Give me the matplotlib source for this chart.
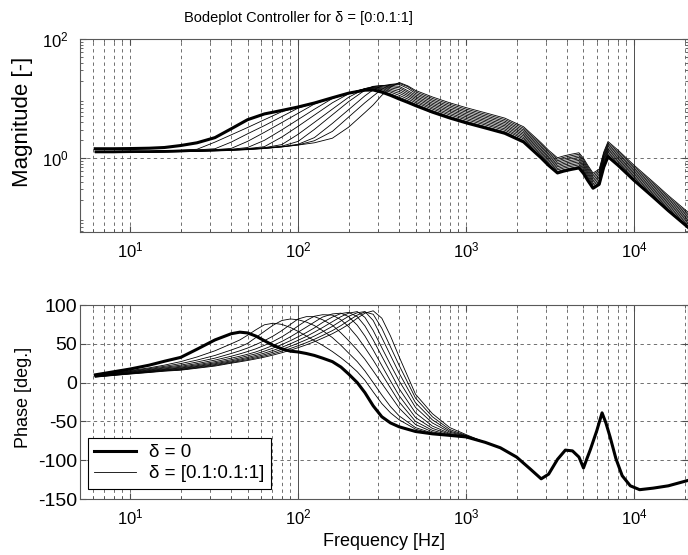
import matplotlib
matplotlib.use('Agg')
import matplotlib.pyplot as plt
from matplotlib.ticker import LogLocator, NullFormatter

plt.rcParams['font.family'] = ['Liberation Sans', 'DejaVu Sans']
plt.rcParams['mathtext.fontset'] = 'custom'
plt.rcParams['mathtext.rm'] = 'Liberation Sans'
plt.rcParams['mathtext.it'] = 'Liberation Sans:italic'
plt.rcParams['axes.unicode_minus'] = False

# delta values: 0 (thick) and 0.1 ... 1 (thin)
deltas = [0.0, 0.1, 0.2, 0.3, 0.4, 0.5, 0.6, 0.7, 0.8, 0.9, 1.0]

# ---- magnitude, low frequency part (one row per delta)
freq_mag_low = [6.2, 8, 10, 13, 16, 20, 25, 32, 40, 50, 63, 80, 100, 125, 160, 200,
                250, 280, 315, 355, 400, 450]
mag_low = [
    [1.43, 1.43, 1.44, 1.46, 1.50, 1.62, 1.80, 2.20, 3.10, 4.40, 5.50, 6.30, 7.20, 8.40, 10.3, 12.3, 13.8, 13.9, 12.8, 11.3, 9.8, 8.6],
    [1.31, 1.31, 1.32, 1.32, 1.34, 1.36, 1.40, 1.85, 2.45, 3.25, 4.40, 6.00, 7.20, 8.40, 10.3, 12.3, 14.0, 14.2, 13.4, 12.0, 10.5, 9.2],
    [1.30, 1.30, 1.31, 1.31, 1.33, 1.35, 1.37, 1.43, 1.85, 2.55, 3.50, 4.97, 6.89, 8.40, 10.3, 12.3, 14.2, 14.6, 14.0, 12.8, 11.3, 9.8],
    [1.29, 1.29, 1.30, 1.30, 1.32, 1.34, 1.36, 1.38, 1.45, 1.90, 2.70, 3.94, 5.64, 8.07, 10.3, 12.3, 14.4, 15.0, 14.6, 13.5, 12.2, 10.5],
    [1.28, 1.28, 1.29, 1.29, 1.31, 1.32, 1.34, 1.37, 1.40, 1.50, 1.98, 2.97, 4.43, 6.60, 10.0, 12.3, 14.6, 15.3, 15.2, 14.3, 13.1, 11.2],
    [1.27, 1.27, 1.28, 1.28, 1.30, 1.31, 1.33, 1.36, 1.39, 1.44, 1.55, 2.25, 3.41, 5.26, 8.47, 12.0, 14.7, 15.6, 15.8, 15.1, 14.1, 11.9],
    [1.26, 1.26, 1.27, 1.27, 1.29, 1.30, 1.32, 1.35, 1.38, 1.42, 1.49, 1.68, 2.50, 3.97, 6.63, 10.5, 14.6, 15.9, 16.3, 15.9, 15.1, 12.7],
    [1.25, 1.25, 1.26, 1.26, 1.28, 1.29, 1.31, 1.34, 1.37, 1.41, 1.48, 1.58, 1.90, 3.02, 5.32, 8.87, 13.8, 16.0, 16.6, 16.6, 16.0, 13.5],
    [1.24, 1.24, 1.25, 1.25, 1.26, 1.28, 1.30, 1.33, 1.36, 1.40, 1.46, 1.55, 1.70, 2.20, 3.81, 6.50, 11.1, 14.0, 16.3, 17.3, 17.2, 14.8],
    [1.23, 1.23, 1.24, 1.24, 1.25, 1.27, 1.29, 1.32, 1.35, 1.39, 1.45, 1.54, 1.66, 1.95, 2.80, 4.88, 8.50, 11.0, 14.3, 17.2, 18.0, 15.8],
    [1.22, 1.22, 1.23, 1.24, 1.25, 1.27, 1.29, 1.31, 1.34, 1.38, 1.44, 1.53, 1.65, 1.80, 2.15, 3.30, 5.80, 7.80, 11.3, 15.5, 18.6, 16.3],
]

# ---- magnitude, high frequency part: lower edge of band (delta = 0)
freq_mag_tail = [500, 630, 800, 1000, 1300, 1700, 2200, 2800, 3100, 3500, 3800, 4200, 4700, 5000,
                 5300, 5700, 6200, 6600, 7000, 8000, 10000, 13000, 16000, 21000]
mag_tail_d0 = [7.6, 5.9, 4.7, 3.9, 3.2, 2.6, 1.86, 1.0, 0.75, 0.56, 0.6, 0.64, 0.68, 0.55,
               0.42, 0.31, 0.36, 0.7, 1.05, 0.76, 0.42, 0.22, 0.13, 0.068]
band_gain = [1.0, 1.06, 1.125, 1.19, 1.265, 1.34, 1.42, 1.51, 1.6, 1.7, 1.8]

# ---- phase, low frequency part (one row per delta)
freq_ph_low = [6.2, 8, 10, 13, 16, 20, 25, 32, 40, 45, 50, 56, 63, 71, 80, 90, 100, 112, 125, 140,
               160, 180, 200, 225, 250, 280, 315, 355, 400, 500, 630, 800, 1000]
phase_low = [
    [10.0, 14.0, 17.5, 22.5, 27.5, 32.5, 43.0, 55.0, 63.0, 65.0, 64.0, 60.0, 54.0, 48.0, 43.5, 40.5, 39.5, 37.5, 35.0, 31.5,
     27.0, 20.0, 11.0, 0.0, -13.0, -30.0, -44.0, -52.0, -57.0, -63.0, -66.0, -68.0, -70.0],
    [9.5, 12.5, 15.5, 19.0, 22.5, 27.0, 33.0, 41.0, 50.0, 55.0, 61.0, 68.0, 74.5, 76.5, 75.0, 71.0, 66.0, 60.0, 54.0, 48.0,
     40.0, 32.0, 24.0, 14.0, 3.0, -12.0, -27.0, -39.0, -48.0, -60.0, -66.0, -68.5, -70.5],
    [9.2, 12.0, 14.8, 18.0, 21.0, 24.5, 29.0, 35.0, 42.0, 46.0, 50.5, 58.0, 66.0, 74.0, 80.0, 82.0, 81.0, 78.0, 73.5, 67.0,
     58.0, 48.0, 38.0, 27.0, 15.0, 0.0, -16.0, -31.0, -43.0, -58.0, -65.0, -68.5, -70.5],
    [8.9, 11.6, 14.2, 17.0, 19.8, 22.5, 26.5, 31.5, 37.5, 41.0, 44.5, 49.0, 54.0, 60.0, 67.0, 75.0, 82.0, 85.0, 85.0, 81.0,
     74.0, 64.0, 54.0, 42.0, 30.0, 15.0, -1.0, -17.0, -33.0, -54.0, -63.5, -68.0, -70.5],
    [8.6, 11.2, 13.6, 16.2, 18.8, 21.0, 24.5, 29.0, 34.0, 37.0, 40.0, 43.5, 48.0, 53.0, 59.0, 66.0, 73.0, 80.0, 85.5, 87.5,
     87.0, 81.0, 72.0, 59.0, 45.0, 29.0, 11.0, -7.0, -25.0, -50.0, -61.5, -67.5, -70.0],
    [8.3, 10.8, 13.0, 15.5, 17.8, 19.8, 23.0, 27.0, 31.5, 34.0, 36.5, 39.5, 43.5, 48.0, 53.0, 59.0, 65.0, 71.5, 78.0, 84.5,
     88.5, 89.5, 85.0, 74.0, 60.0, 42.0, 22.0, 2.0, -17.0, -45.0, -59.0, -66.5, -70.0],
    [8.0, 10.4, 12.5, 14.9, 17.0, 18.8, 21.8, 25.5, 29.5, 32.0, 34.5, 37.0, 40.5, 44.5, 49.0, 54.0, 59.0, 64.5, 70.5, 77.5,
     84.5, 89.0, 90.5, 85.0, 73.0, 55.0, 34.0, 13.0, -8.0, -39.0, -56.0, -65.5, -69.5],
    [7.8, 10.1, 12.1, 14.4, 16.4, 18.0, 20.8, 24.3, 28.0, 30.3, 32.5, 35.0, 38.0, 41.5, 45.5, 50.0, 54.5, 59.5, 65.0, 71.0,
     78.5, 85.0, 89.5, 91.5, 84.0, 67.0, 45.0, 23.0, 2.0, -32.0, -52.0, -64.0, -69.0],
    [7.5, 9.8, 11.7, 13.9, 15.8, 17.2, 20.0, 23.2, 26.8, 29.0, 31.0, 33.3, 36.0, 39.2, 42.8, 46.8, 50.8, 55.3, 60.0, 65.5,
     72.5, 79.5, 85.5, 90.0, 91.5, 80.0, 58.0, 35.0, 12.0, -26.0, -48.0, -62.5, -68.5],
    [7.2, 9.5, 11.3, 13.4, 15.2, 16.5, 19.2, 22.2, 25.8, 27.8, 29.6, 31.8, 34.3, 37.2, 40.5, 44.0, 47.5, 51.5, 55.8, 60.8,
     67.0, 73.5, 80.0, 87.0, 91.0, 88.0, 70.0, 46.0, 22.0, -20.0, -44.0, -60.5, -68.0],
    [7.0, 9.2, 11.0, 13.0, 14.7, 16.0, 18.5, 21.3, 25.0, 26.8, 28.5, 30.5, 32.8, 35.5, 38.5, 41.7, 45.0, 48.7, 52.7, 57.3,
     63.0, 69.0, 75.0, 83.0, 89.5, 92.5, 83.0, 60.0, 33.0, -15.0, -40.0, -58.0, -67.0],
]

# ---- phase, high frequency part (all curves overlap)
freq_ph_tail = [1300, 1600, 2000, 2400, 2800, 3100, 3500, 3900, 4300, 4700, 5000, 5200, 5500,
                6000, 6450, 6800, 7200, 7800, 8500, 9500, 10800, 13000, 16000, 21000]
phase_tail = [-77, -84, -96, -111, -124, -118, -99, -87, -88, -96, -110, -100, -86,
              -62, -39, -52, -70, -98, -120, -133, -138, -136, -133, -126]

xlim = (5.03, 2.095e4)
grid_ls = (0, (4, 4))
grid_col = '0.35'


def draw_grid(ax, hlines):
    for dec in [1, 10, 100, 1000, 10000]:
        for m in range(1, 10):
            f = m * dec
            if f <= xlim[0] or f >= xlim[1]:
                continue
            if f in (100, 10000):
                ax.axvline(f, color='0.3', lw=0.7, zorder=0)
            else:
                ax.axvline(f, color=grid_col, lw=0.6, ls=grid_ls, zorder=0)
    for h in hlines:
        ax.axhline(h, color=grid_col, lw=0.6, ls=grid_ls, zorder=0)


def style_axes(ax):
    ax.set_xscale('log')
    ax.set_xlim(*xlim)
    ax.set_xticks([10, 100, 1000, 10000])
    ax.set_xticklabels([r'$10^{1}$', r'$10^{2}$', r'$10^{3}$', r'$10^{4}$'])
    ax.xaxis.set_minor_locator(LogLocator(base=10, subs=range(2, 10)))
    ax.xaxis.set_minor_formatter(NullFormatter())
    ax.tick_params(which='both', direction='in', top=True, right=True, color='0.3')
    ax.tick_params(which='major', length=4)
    ax.tick_params(which='minor', length=2.5)
    ax.tick_params(axis='x', labelsize=12, pad=6)
    for s in ax.spines.values():
        s.set_color('0.35')
        s.set_linewidth(0.8)


fig = plt.figure(figsize=(6.88, 5.55), dpi=100)
ax1 = fig.add_axes([80 / 688, 323 / 555, 608 / 688, 193 / 555])
ax2 = fig.add_axes([80 / 688, 56 / 555, 608 / 688, 194 / 555])

# magnitude
for k in range(1, len(deltas)):
    ys = mag_low[k] + [v * band_gain[k] for v in mag_tail_d0]
    ax1.plot(freq_mag_low + freq_mag_tail, ys, color='k', lw=0.6)
ax1.plot(freq_mag_low + freq_mag_tail, mag_low[0] + mag_tail_d0, color='k', lw=2.2)
style_axes(ax1)
ax1.set_yscale('log')
ax1.set_ylim(0.057, 100)
ax1.set_yticks([1, 100])
ax1.set_yticklabels([r'$10^{0}$', r'$10^{2}$'])
ax1.yaxis.set_minor_formatter(NullFormatter())
ax1.tick_params(axis='y', labelsize=12, pad=8)
draw_grid(ax1, [1])
ax1.set_ylabel('Magnitude [-]', fontsize=16)
ax1.yaxis.set_label_coords(-0.077, 0.57)

# phase
for k in range(1, len(deltas)):
    ax2.plot(freq_ph_low + freq_ph_tail, phase_low[k] + phase_tail, color='k', lw=0.6)
thin_line, = ax2.plot([], [], color='k', lw=0.6)
thick_line, = ax2.plot(freq_ph_low + freq_ph_tail, phase_low[0] + phase_tail, color='k', lw=2.2)
style_axes(ax2)
ax2.set_ylim(-150, 100)
ax2.set_yticks([-150, -100, -50, 0, 50, 100])
ax2.tick_params(axis='y', labelsize=14, pad=2)
draw_grid(ax2, [-100, -50, 0, 50])
ax2.set_ylabel('Phase [deg.]', fontsize=13)
ax2.yaxis.set_label_coords(-0.079, 0.526)
ax2.set_xlabel('Frequency [Hz]', fontsize=13, labelpad=4)

leg = ax2.legend([thick_line, thin_line], ['δ = 0', 'δ = [0.1:0.1:1]'],
                 loc='lower left', bbox_to_anchor=(0.013, 0.052), borderaxespad=0,
                 fontsize=13.5, frameon=True, fancybox=False, framealpha=1,
                 edgecolor='k', handlelength=2.2, labelspacing=0.2,
                 borderpad=0.35, handletextpad=0.7)
leg.get_frame().set_linewidth(0.8)

fig.text(298 / 688, 1 - 18 / 555, 'Bodeplot Controller for δ = [0:0.1:1]',
         ha='center', va='center', fontsize=10.5)

fig.savefig('out.png', dpi=100)
